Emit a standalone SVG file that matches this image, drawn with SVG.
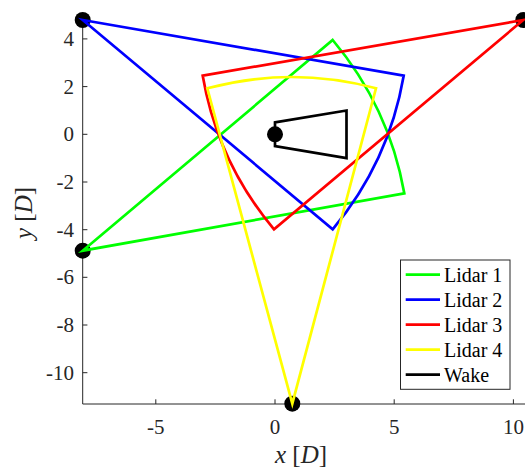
<svg xmlns="http://www.w3.org/2000/svg" width="525" height="468" viewBox="0 0 525 468">
<style>
.ax{stroke:#262626;stroke-width:1;fill:none}
.tk{font-family:"Liberation Serif","Times New Roman",serif;font-size:21px;fill:#262626}
.lb{font-family:"Liberation Serif","Times New Roman",serif;font-size:25px;fill:#262626}
.it{font-style:italic}
.lg{font-family:"Liberation Serif","Times New Roman",serif;font-size:20px;fill:#000}
.ln{fill:none;stroke-width:2.7;stroke-linejoin:miter}
.mk{fill:#000}
</style>
<rect width="525" height="468" fill="#fff"/>
<g id="axes">
<path class="ax" d="M82.7 19.5V404H525"/>
<path class="ax" d="M82.7 38.9h4.7M82.7 86.6h4.7M82.7 134.3h4.7M82.7 182h4.7M82.7 229.7h4.7M82.7 277.3h4.7M82.7 325h4.7M82.7 372.7h4.7M155.8 404v-4.7M275 404v-4.7M394.2 404v-4.7M513.4 404v-4.7"/>
<g class="tk" text-anchor="end">
<text x="74" y="46">4</text>
<text x="74" y="93.7">2</text>
<text x="74" y="141.4">0</text>
<text x="74" y="189.1">-2</text>
<text x="74" y="236.8">-4</text>
<text x="74" y="284.4">-6</text>
<text x="74" y="332.1">-8</text>
<text x="74" y="379.8">-10</text>
</g>
<g class="tk" text-anchor="middle">
<text x="155.8" y="434">-5</text>
<text x="275" y="434">0</text>
<text x="394.2" y="434">5</text>
<text x="513.4" y="434">10</text>
</g>
<text class="lb" x="301" y="463" text-anchor="middle"><tspan class="it">x</tspan> [<tspan class="it">D</tspan>]</text>
<text class="lb" transform="translate(32 213) rotate(-90)" text-anchor="middle"><tspan class="it">y</tspan> [<tspan class="it">D</tspan>]</text>
</g>
<g id="markers">
<circle id="lidar1-pos" class="mk" cx="82.7" cy="250.7" r="8"/>
<circle id="lidar2-pos" class="mk" cx="82.7" cy="20" r="8"/>
<circle id="lidar3-pos" class="mk" cx="523.3" cy="20" r="8"/>
<circle id="lidar4-pos" class="mk" cx="292.3" cy="403.7" r="8"/>
<circle id="wake-pos" class="mk" cx="275" cy="134.3" r="8"/>
</g>
<g id="connectors">
<path id="lidar1" class="ln" stroke="#00ff00" d="M82.7 250.7L332.7 40A326.8 326.8 0 0 1 404.3 193.3Z"/>
<path id="lidar2" class="ln" stroke="#0000ff" d="M82.7 20L403.7 75.7A326 326 0 0 1 332.7 229.3Z"/>
<path id="lidar3" class="ln" stroke="#ff0000" d="M523.3 20L202.7 75.7A325.5 325.5 0 0 0 274 229.3Z"/>
<path id="lidar4" class="ln" stroke="#ffff00" d="M292.3 403.7L207.3 88.3A326.5 326.5 0 0 1 376 88.3Z"/>
<path id="wake" class="ln" stroke="#000" d="M275 122.4L346.5 110.5V158.1L275 146.2Z"/>
</g>
<g id="legend">
<rect x="400.5" y="260" width="109.5" height="129.3" fill="#fff" stroke="#262626" stroke-width="1"/>
<path class="ln" stroke="#00ff00" d="M405.7 274.6H440"/>
<path class="ln" stroke="#0000ff" d="M405.7 299.6H440"/>
<path class="ln" stroke="#ff0000" d="M405.7 324.6H440"/>
<path class="ln" stroke="#ffff00" d="M405.7 349.6H440"/>
<path class="ln" stroke="#000" d="M405.7 374.6H440"/>
<text class="lg" x="444" y="281.6">Lidar 1</text>
<text class="lg" x="444" y="306.6">Lidar 2</text>
<text class="lg" x="444" y="331.6">Lidar 3</text>
<text class="lg" x="444" y="356.6">Lidar 4</text>
<text class="lg" x="444" y="381.6">Wake</text>
</g>
</svg>
